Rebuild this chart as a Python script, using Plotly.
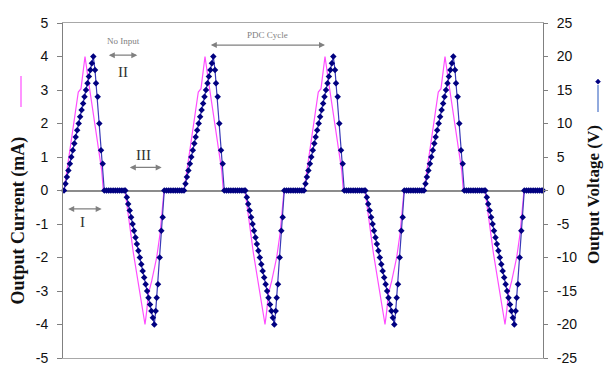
import plotly.graph_objects as go

# ---- PDC output: sampled voltage (V) on the right axis ----
volt_time = [
    # cycle 1
    0.0, 1.5, 2.9, 4.4, 5.9, 7.3, 8.8, 10.3, 11.7, 13.2, 14.7, 16.1, 17.6, 19.1, 20.5, 22.0, 23.5, 24.9, 26.4, 27.9, 29.3,
    31.0, 32.0, 33.7, 35.3, 37.0, 38.7, 40.3,
    42.5, 44.7, 46.9, 49.1, 51.3, 53.5, 55.7, 57.9, 60.1,
    61.3, 62.8, 64.2, 65.7, 67.1, 68.6, 70.0, 71.5, 72.9, 74.4, 75.8, 77.3, 78.7, 80.2, 81.6, 83.1, 84.5, 86.0, 87.4, 88.9, 90.3,
    91.7, 92.7, 94.0, 95.7, 97.3, 98.7, 100.3,
    102.5, 104.7, 106.9, 109.1, 111.3, 113.5, 115.7, 117.9,
    # cycle 2
    120.0, 121.5, 122.9, 124.4, 125.9, 127.3, 128.8, 130.3, 131.7, 133.2, 134.7, 136.1, 137.6, 139.1, 140.5, 142.0, 143.5, 144.9, 146.4, 147.9, 149.3,
    151.0, 152.0, 153.7, 155.3, 157.0, 158.7, 160.3,
    162.5, 164.7, 166.9, 169.1, 171.3, 173.5, 175.7, 177.9, 180.1,
    181.3, 182.8, 184.2, 185.7, 187.1, 188.6, 190.0, 191.5, 192.9, 194.4, 195.8, 197.3, 198.7, 200.2, 201.6, 203.1, 204.5, 206.0, 207.4, 208.9, 210.3,
    211.7, 212.7, 214.0, 215.7, 217.3, 218.7, 220.3,
    222.5, 224.7, 226.9, 229.1, 231.3, 233.5, 235.7, 237.9,
    # cycle 3
    240.0, 241.5, 242.9, 244.4, 245.9, 247.3, 248.8, 250.3, 251.7, 253.2, 254.7, 256.1, 257.6, 259.1, 260.5, 262.0, 263.5, 264.9, 266.4, 267.9, 269.3,
    271.0, 272.0, 273.7, 275.3, 277.0, 278.7, 280.3,
    282.5, 284.7, 286.9, 289.1, 291.3, 293.5, 295.7, 297.9, 300.1,
    301.3, 302.8, 304.2, 305.7, 307.1, 308.6, 310.0, 311.5, 312.9, 314.4, 315.8, 317.3, 318.7, 320.2, 321.6, 323.1, 324.5, 326.0, 327.4, 328.9, 330.3,
    331.7, 332.7, 334.0, 335.7, 337.3, 338.7, 340.3,
    342.5, 344.7, 346.9, 349.1, 351.3, 353.5, 355.7, 357.9,
    # cycle 4
    360.0, 361.5, 362.9, 364.4, 365.9, 367.3, 368.8, 370.3, 371.7, 373.2, 374.7, 376.1, 377.6, 379.1, 380.5, 382.0, 383.5, 384.9, 386.4, 387.9, 389.3,
    391.0, 392.0, 393.7, 395.3, 397.0, 398.7, 400.3,
    402.5, 404.7, 406.9, 409.1, 411.3, 413.5, 415.7, 417.9, 420.1,
    421.3, 422.8, 424.2, 425.7, 427.1, 428.6, 430.0, 431.5, 432.9, 434.4, 435.8, 437.3, 438.7, 440.2, 441.6, 443.1, 444.5, 446.0, 447.4, 448.9, 450.3,
    451.7, 452.7, 454.0, 455.7, 457.3, 458.7, 460.3,
    462.5, 464.7, 466.9, 469.1, 471.3, 473.5, 475.7, 477.9, 479.0,
]

volt_value = [
    # cycle 1
    0, 1, 2, 3, 4, 5, 6, 7, 8, 9, 10, 11, 12, 13, 14, 15, 16, 17, 18, 19, 20,
    18, 16, 14, 10, 6, 4, 0,
    0, 0, 0, 0, 0, 0, 0, 0, 0,
    0, -1, -2, -3, -4, -5, -6, -7, -8, -9, -10, -11, -12, -13, -14, -15, -16, -17, -18, -19, -20,
    -18, -16, -14, -10, -6, -4, 0,
    0, 0, 0, 0, 0, 0, 0, 0,
    # cycle 2
    0, 1, 2, 3, 4, 5, 6, 7, 8, 9, 10, 11, 12, 13, 14, 15, 16, 17, 18, 19, 20,
    18, 16, 14, 10, 6, 4, 0,
    0, 0, 0, 0, 0, 0, 0, 0, 0,
    0, -1, -2, -3, -4, -5, -6, -7, -8, -9, -10, -11, -12, -13, -14, -15, -16, -17, -18, -19, -20,
    -18, -16, -14, -10, -6, -4, 0,
    0, 0, 0, 0, 0, 0, 0, 0,
    # cycle 3
    0, 1, 2, 3, 4, 5, 6, 7, 8, 9, 10, 11, 12, 13, 14, 15, 16, 17, 18, 19, 20,
    18, 16, 14, 10, 6, 4, 0,
    0, 0, 0, 0, 0, 0, 0, 0, 0,
    0, -1, -2, -3, -4, -5, -6, -7, -8, -9, -10, -11, -12, -13, -14, -15, -16, -17, -18, -19, -20,
    -18, -16, -14, -10, -6, -4, 0,
    0, 0, 0, 0, 0, 0, 0, 0,
    # cycle 4
    0, 1, 2, 3, 4, 5, 6, 7, 8, 9, 10, 11, 12, 13, 14, 15, 16, 17, 18, 19, 20,
    18, 16, 14, 10, 6, 4, 0,
    0, 0, 0, 0, 0, 0, 0, 0, 0,
    0, -1, -2, -3, -4, -5, -6, -7, -8, -9, -10, -11, -12, -13, -14, -15, -16, -17, -18, -19, -20,
    -18, -16, -14, -10, -6, -4, 0,
    0, 0, 0, 0, 0, 0, 0, 0, 0,
]

# ---- PDC output: current (mA) on the left axis ----
curr_time = [
    0.0, 8.7, 14.3, 17.0, 21.0, 24.3, 27.0, 30.3, 34.3, 37.7, 39.3,
    61.0, 69.3, 73.7, 81.0, 82.7, 84.3, 87.7, 92.7, 96.0, 98.7, 100.0,
    120.0, 128.7, 134.3, 137.0, 141.0, 144.3, 147.0, 150.3, 154.3, 157.7, 159.3,
    181.0, 189.3, 193.7, 201.0, 202.7, 204.3, 207.7, 212.7, 216.0, 218.7, 220.0,
    240.0, 248.7, 254.3, 257.0, 261.0, 264.3, 267.0, 270.3, 274.3, 277.7, 279.3,
    301.0, 309.3, 313.7, 321.0, 322.7, 324.3, 327.7, 332.7, 336.0, 338.7, 340.0,
    360.0, 368.7, 374.3, 377.0, 381.0, 384.3, 387.0, 390.3, 394.3, 397.7, 399.3,
    421.0, 429.3, 433.7, 441.0, 442.7, 444.3, 447.7, 452.7, 456.0, 458.7, 460.0,
    479.0,
]

curr_value = [
    0.0, 1.84, 2.94, 3.04, 4.0, 3.3, 2.75, 2.0, 1.2, 0.6, 0.0,
    0.0, -1.85, -2.7, -4.0, -3.6, -3.1, -2.7, -2.0, -1.3, -0.3, 0.0,
    0.0, 1.84, 2.94, 3.04, 4.0, 3.3, 2.75, 2.0, 1.2, 0.6, 0.0,
    0.0, -1.85, -2.7, -4.0, -3.6, -3.1, -2.7, -2.0, -1.3, -0.3, 0.0,
    0.0, 1.84, 2.94, 3.04, 4.0, 3.3, 2.75, 2.0, 1.2, 0.6, 0.0,
    0.0, -1.85, -2.7, -4.0, -3.6, -3.1, -2.7, -2.0, -1.3, -0.3, 0.0,
    0.0, 1.84, 2.94, 3.04, 4.0, 3.3, 2.75, 2.0, 1.2, 0.6, 0.0,
    0.0, -1.85, -2.7, -4.0, -3.6, -3.1, -2.7, -2.0, -1.3, -0.3, 0.0,
    0.0,
]

left_ticks = [5, 4, 3, 2, 1, 0, -1, -2, -3, -4, -5]
right_ticks = [25, 20, 15, 10, 5, 0, -5, -10, -15, -20, -25]

CURRENT_COLOR = "#ff4dff"
VOLT_LINE = "#3a3ab8"
VOLT_MARK = "#000080"
AXIS_GRAY = "#808080"
SERIF = "Liberation Serif, Times New Roman, serif"
SANS = "Liberation Sans, Arial, sans-serif"

fig = go.Figure()

fig.add_trace(go.Scatter(
    x=curr_time, y=curr_value, mode="lines", name="Output Current (mA)",
    line=dict(color=CURRENT_COLOR, width=1.2), yaxis="y", showlegend=False,
))
fig.add_trace(go.Scatter(
    x=volt_time, y=volt_value, mode="lines+markers", name="Output Voltage (V)",
    line=dict(color=VOLT_LINE, width=1.2),
    marker=dict(symbol="diamond", size=5, color=VOLT_MARK),
    yaxis="y2", showlegend=False, cliponaxis=False,
))

fig.update_layout(
    width=604, height=367,
    margin=dict(l=63, r=61, t=23, b=9, autoexpand=False),
    paper_bgcolor="white", plot_bgcolor="white",
    xaxis=dict(
        range=[-1, 479], showticklabels=False, ticks="", showgrid=False,
        zeroline=False, showline=True, mirror=True, linecolor="#a8a8a8", linewidth=1,
        automargin=False,
    ),
    yaxis=dict(
        range=[-5, 5], tickvals=left_ticks, ticktext=[str(v) for v in left_ticks],
        ticks="outside", ticklen=5, tickcolor=AXIS_GRAY, showgrid=False,
        showline=True, linecolor=AXIS_GRAY, linewidth=1,
        zeroline=True, zerolinecolor="#8c8c8c", zerolinewidth=2,
        tickfont=dict(family=SANS, size=14, color="#111"), ticklabelstandoff=6,
        automargin=False,
    ),
    yaxis2=dict(
        range=[-25, 25], tickvals=right_ticks, ticktext=[str(v) for v in right_ticks],
        overlaying="y", side="right", anchor="x",
        ticks="outside", ticklen=4, tickcolor=AXIS_GRAY, showgrid=False,
        showline=True, linecolor=AXIS_GRAY, linewidth=1, zeroline=False,
        tickfont=dict(family=SANS, size=14, color="#111"), ticklabelstandoff=6,
        automargin=False,
    ),
)

# axis titles with their series keys
fig.add_annotation(
    text="<b>Output Current (mA)</b>", xref="paper", yref="paper",
    x=-0.0917, y=0.4104, xanchor="center", yanchor="middle",
    textangle=-90, showarrow=False,
    font=dict(family=SERIF, size=18, color="#111"),
)
fig.add_shape(type="line", xref="paper", yref="paper",
              x0=-0.0875, x1=-0.0875, y0=0.749, y1=0.842,
              line=dict(color=CURRENT_COLOR, width=1.2))

fig.add_annotation(
    text="<b>Output Voltage (V)</b>", xref="paper", yref="paper",
    x=1.1063, y=0.4866, xanchor="center", yanchor="middle",
    textangle=-90, showarrow=False,
    font=dict(family=SERIF, size=17, color="#111"),
)
KX, KY = 1.1146, 0.825
fig.add_shape(type="line", xref="paper", yref="paper",
              x0=KX, x1=KX, y0=0.734, y1=0.815,
              line=dict(color="#4a72c8", width=1.2))
fig.add_shape(type="path", xref="paper", yref="paper",
              path=(f"M {KX - 0.0052} {KY} L {KX} {KY + 0.0075} "
                    f"L {KX + 0.0052} {KY} L {KX} {KY - 0.0075} Z"),
              fillcolor=VOLT_MARK, line=dict(color=VOLT_MARK, width=0.5))


def double_arrow(x0, x1, y):
    fig.add_annotation(
        x=x1, y=y, ax=x0, ay=y, xref="x", yref="y", axref="x", ayref="y",
        text="", showarrow=True, arrowhead=2, arrowside="end+start",
        arrowsize=1, arrowwidth=1.2, arrowcolor=AXIS_GRAY,
    )


# phase labels
double_arrow(2.7, 37.7, -0.55)
fig.add_annotation(x=18.5, y=-0.94, text="I", showarrow=False,
                   font=dict(family=SERIF, size=15, color="#333"))
double_arrow(43.3, 73.3, 4.04)
fig.add_annotation(x=59, y=3.54, text="II", showarrow=False,
                   font=dict(family=SERIF, size=15, color="#333"))
fig.add_annotation(x=59, y=4.46, text="No Input", showarrow=False,
                   font=dict(family=SERIF, size=9, color=AXIS_GRAY))
double_arrow(64.3, 97.7, 0.69)
fig.add_annotation(x=79.5, y=1.06, text="III", showarrow=False,
                   font=dict(family=SERIF, size=15, color="#333"))
double_arrow(145.3, 261.0, 4.34)
fig.add_annotation(x=203.5, y=4.64, text="PDC Cycle", showarrow=False,
                   font=dict(family=SERIF, size=9, color=AXIS_GRAY))

fig.write_html("out.html")
